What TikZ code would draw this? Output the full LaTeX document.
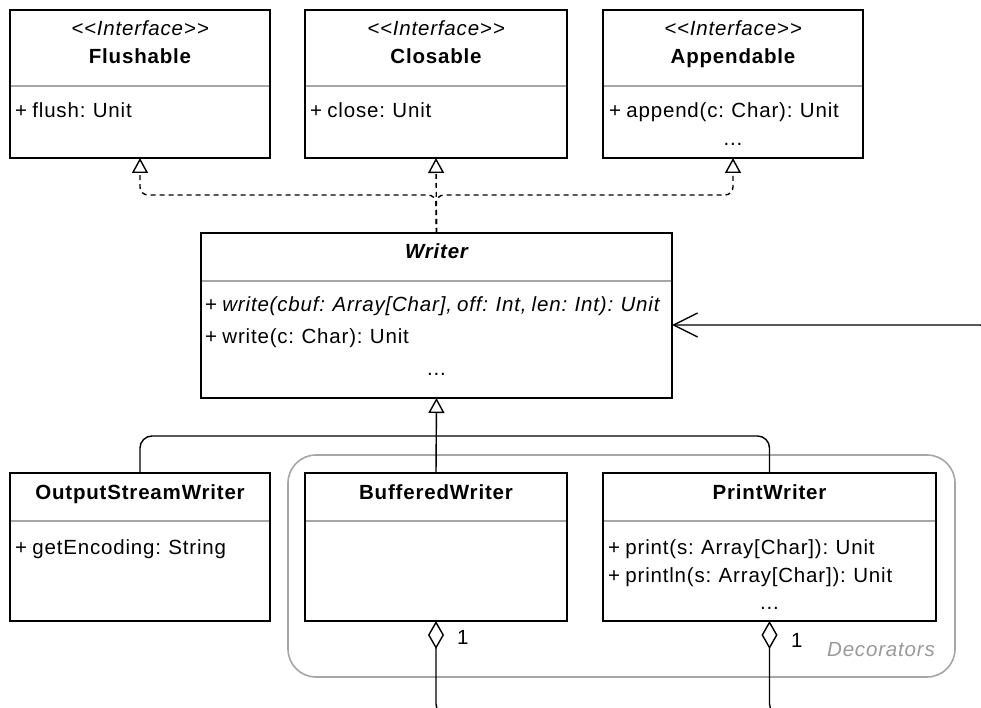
\documentclass[tikz,border=0pt]{standalone}
\usepackage{fontspec}
\setmainfont{Liberation Sans}[LetterSpace=4, WordSpace=0.8]
\usetikzlibrary{arrows.meta}
\begin{document}
\begin{tikzpicture}[x=1pt,y=-1pt,
  umlbox/.style={draw=black, line width=1.5pt, rectangle, inner sep=0pt, outer sep=0pt},
  divider/.style={draw=black!35, line width=2pt},
  txt/.style={inner sep=0pt, font=\fontsize{20.5}{24}\selectfont},
  gen/.style={line width=1.4pt, rounded corners=12pt},
  realize/.style={line width=1.4pt, dash pattern=on 5pt off 4pt, rounded corners=8pt},
  gtip/.style={-{Triangle[open, length=15pt, width=16pt, line width=1.4pt]}},
  agg/.style={line width=1.4pt, {Diamond[open, length=28pt, width=16pt, line width=1.4pt]}-, rounded corners=12pt},
  grp/.style={draw=black!35, line width=1.6pt, rounded corners=28pt}
]
\useasboundingbox (0,0) rectangle (981,708);
\clip (0,0) rectangle (981,708);

% Decorators group
\draw[grp] (288,455) rectangle (955,677);
\node[txt, anchor=base east, text=black!40] (declabel) at (935,656) {\itshape Decorators};

% Interfaces
\node[umlbox, minimum width=260pt, minimum height=148pt] (flush) at (140,84) {};
\node[umlbox, minimum width=262pt, minimum height=148pt] (close) at (436,84) {};
\node[umlbox, minimum width=260pt, minimum height=148pt] (append) at (733,84) {};
\draw[divider] (11,86) -- (269,86);
\draw[divider] (306,86) -- (566,86);
\draw[divider] (604,86) -- (862,86);

\node[txt, anchor=base] (flushst) at (140,36) {\itshape {<}{<}Interface{>}{>}};
\node[txt, anchor=base] (flushnm) at (140,64) {\bfseries Flushable};
\node[txt, anchor=base west] (flushm) at (15,118) {+ flush: Unit};

\node[txt, anchor=base] (closest) at (436,36) {\itshape {<}{<}Interface{>}{>}};
\node[txt, anchor=base] (closenm) at (436,64) {\bfseries Closable};
\node[txt, anchor=base west] (closem) at (310,118) {+ close: Unit};

\node[txt, anchor=base] (appst) at (733,36) {\itshape {<}{<}Interface{>}{>}};
\node[txt, anchor=base] (appnm) at (733,64) {\bfseries Appendable};
\node[txt, anchor=base west] (appm) at (609,118) {+ append(c: Char): Unit};
\node[txt, anchor=base] (appdots) at (733,146) {...};

% Writer
\node[umlbox, minimum width=471pt, minimum height=165pt] (writer) at (436.5,315.5) {};
\draw[divider] (202,281) -- (671,281);
\node[txt, anchor=base] (writernm) at (436.5,259) {\bfseries\itshape Writer};
\node[txt, anchor=base west] (writerm1) at (205,311) {+ \itshape write(cbuf: Array[Char], off: Int, len: Int): Unit};
\node[txt, anchor=base west] (writerm2) at (205,343) {+ write(c: Char): Unit};
\node[txt, anchor=base] (writerdots) at (436.5,375) {...};

% Subclasses
\node[umlbox, minimum width=260pt, minimum height=148pt] (osw) at (140,547) {};
\node[umlbox, minimum width=262pt, minimum height=148pt] (buff) at (436,547) {};
\node[umlbox, minimum width=333pt, minimum height=148pt] (print) at (769.5,547) {};
\draw[divider] (11,521) -- (269,521);
\draw[divider] (306,521) -- (566,521);
\draw[divider] (604,521) -- (935,521);

\node[txt, anchor=base] (oswnm) at (140,499) {\bfseries OutputStreamWriter};
\node[txt, anchor=base west] (oswm) at (15,554) {+ getEncoding: String};

\node[txt, anchor=base] (buffnm) at (436,499) {\bfseries BufferedWriter};

\node[txt, anchor=base] (printnm) at (769.5,499) {\bfseries PrintWriter};
\node[txt, anchor=base west] (printm1) at (608,554) {+ print(s: Array[Char]): Unit};
\node[txt, anchor=base west] (printm2) at (608,582) {+ println(s: Array[Char]): Unit};
\node[txt, anchor=base] (printdots) at (769.5,609) {...};

% Realization (dashed)
\coordinate (rj) at (436,195);
\draw[realize, gtip] (writer.north) -- (rj) -| (flush.south);
\draw[realize, gtip] (writer.north) -- (rj) -| (append.south);
\draw[realize, gtip] (writer.north) -- (close.south);

% Generalization
\coordinate (gj) at (436,436);
\draw[gen, gtip] (buff.north) -- (writer.south);
\draw[gen] (osw.north) |- (gj);
\draw[gen] (print.north) |- (gj);

% Association arrow into Writer
\coordinate (assocstart) at (992,360);
\draw[line width=1.4pt, rounded corners=12pt, -{Straight Barb[length=24pt, width=24pt, line width=1.4pt]}] (assocstart) |- ([yshift=-9.5pt]writer.east);

% Aggregations
\coordinate (bout) at (462,716);
\coordinate (pout) at (795,716);
\draw[agg] (buff.south) |- (bout);
\draw[agg] (print.south) |- (pout);
\node[txt, anchor=base west] (bmult) at (457,644) {1};
\node[txt, anchor=base west] (pmult) at (791,647) {1};
\end{tikzpicture}
\end{document}
